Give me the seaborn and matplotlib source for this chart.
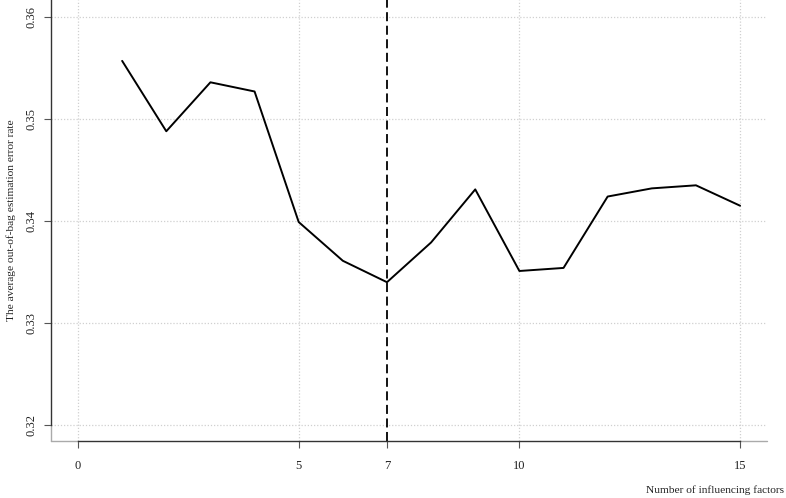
# out-of-bag error rate vs number of influencing factors
import numpy as np
import pandas as pd
import seaborn as sns
import matplotlib.pyplot as plt

# values
n_factors = [1, 2, 3, 4, 5, 6, 7, 8, 9, 10, 11, 12, 13, 14, 15]
oob_error = [0.3557, 0.3488, 0.3536, 0.3527, 0.3399, 0.3361, 0.3340, 0.3379,
             0.3431, 0.3351, 0.3354, 0.3424, 0.3432, 0.3435, 0.3415]
x_ticks = [0, 5, 7, 10, 15]
y_ticks = [0.32, 0.33, 0.34, 0.35, 0.36]
best_n = 7

data = pd.DataFrame({"factors": n_factors, "error": oob_error})

sns.set_theme(style="white")
plt.rcParams["font.family"] = ["Liberation Serif", "DejaVu Serif"]

fig = plt.figure(figsize=(7.86, 4.98), dpi=100)
ax = fig.add_axes([51 / 786, 57 / 498, (767 - 51) / 786, 441 / 498])

xlim = (-0.612, 15.61)
ylim = (0.31843, 0.36167)
ax.set_xlim(*xlim)
ax.set_ylim(*ylim)

# dotted grid like the R plot
for xv in [0, 5, 10, 15]:
    ax.axvline(xv, color="#d0d0d0", lw=0.9, ls=(0, (1, 1.5)), zorder=0)
for yv in y_ticks:
    ax.axhline(yv, color="#d0d0d0", lw=0.9, ls=(0, (1, 1.5)), zorder=0)

sns.lineplot(data=data, x="factors", y="error", color="black", lw=1.4, ax=ax)
ax.axvline(best_n, color="black", lw=1.3, ls=(0, (5, 2.5)))

# light frame, dark axis lines over the tick range
ax.spines["top"].set_visible(False)
ax.spines["right"].set_visible(False)
for side in ["left", "bottom"]:
    ax.spines[side].set_color("#333333")
    ax.spines[side].set_linewidth(1.0)
ax.spines["left"].set_bounds(y_ticks[0], ylim[1])
ax.spines["bottom"].set_bounds(x_ticks[0], x_ticks[-1])
ax.axvline(xlim[0], ymax=(y_ticks[0] - ylim[0]) / (ylim[1] - ylim[0]),
           color="#aaaaaa", lw=1.0, clip_on=False)
ax.axhline(ylim[0], xmin=0, xmax=(x_ticks[0] - xlim[0]) / (xlim[1] - xlim[0]),
           color="#aaaaaa", lw=1.0, clip_on=False)
ax.axhline(ylim[0], xmin=(x_ticks[-1] - xlim[0]) / (xlim[1] - xlim[0]), xmax=1,
           color="#aaaaaa", lw=1.0, clip_on=False)

ax.set_xticks(x_ticks)
ax.set_xticklabels([str(v) for v in x_ticks])
ax.set_yticks(y_ticks)
ax.set_yticklabels([f"{v:.2f}" for v in y_ticks], rotation=90, va="center")
ax.tick_params(axis="both", direction="out", length=5, width=0.8,
               color="#555555", labelsize=9, labelcolor="#222222",
               bottom=True, left=True)
ax.tick_params(axis="x", pad=9)
ax.tick_params(axis="y", pad=5)

ax.set_xlabel("")
ax.set_ylabel("")
fig.text(0.008, 0.558, "The average out-of-bag estimation error rate",
         rotation=90, ha="left", va="center", fontsize=8.2, color="#222222")
fig.text(0.997, 0.016, "Number of influencing factors", ha="right",
         va="center", fontsize=8.2, color="#222222")

fig.savefig("out.png", dpi=100)
